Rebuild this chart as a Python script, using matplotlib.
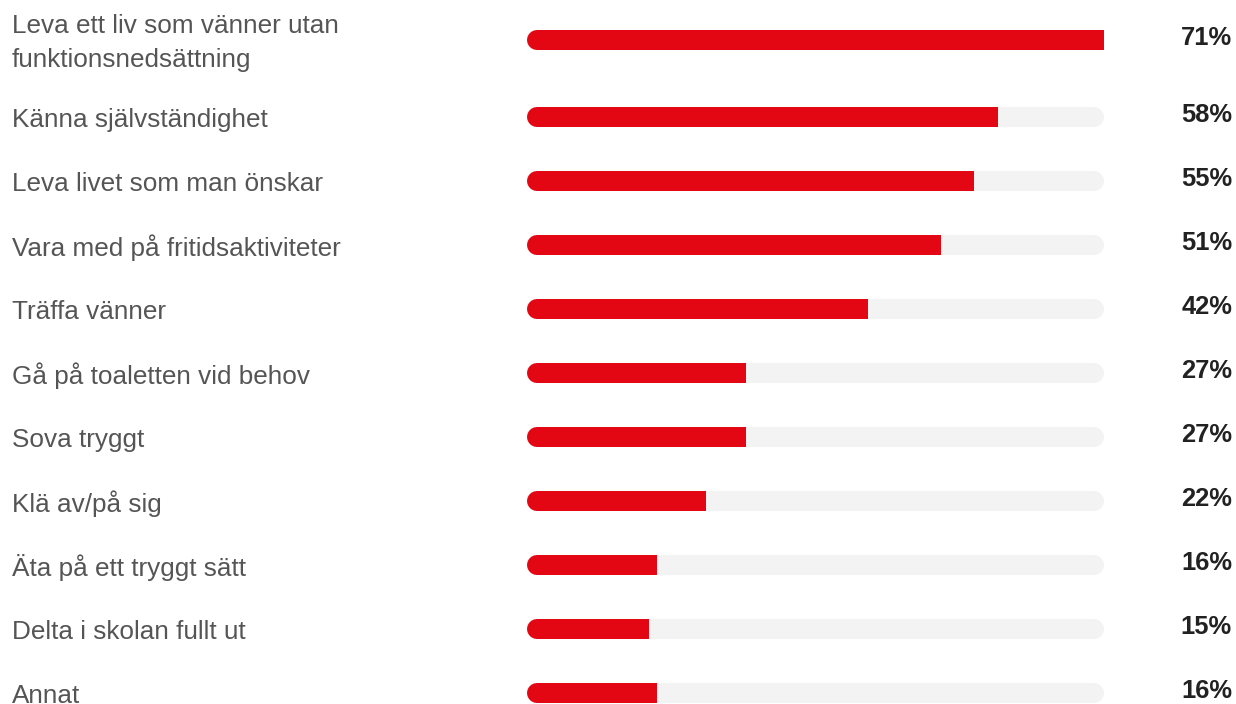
import matplotlib.pyplot as plt

# data
labels = [
    "Leva ett liv som vänner utan\nfunktionsnedsättning",
    "Känna självständighet",
    "Leva livet som man önskar",
    "Vara med på fritidsaktiviteter",
    "Träffa vänner",
    "Gå på toaletten vid behov",
    "Sova tryggt",
    "Klä av/på sig",
    "Äta på ett tryggt sätt",
    "Delta i skolan fullt ut",
    "Annat",
]
values = [71, 58, 55, 51, 42, 27, 27, 22, 16, 15, 16]

RED = "#e30613"
TRACK = "#f3f3f3"
W, H, DPI = 1236, 704, 100

plt.rcParams['font.family'] = ['Liberation Sans', 'DejaVu Sans']

fig = plt.figure(figsize=(W / DPI, H / DPI), dpi=DPI)
x0, x1 = 527, 1104
ax = fig.add_axes([x0 / W, 0, (x1 - x0) / W, 1])
ax.axis('off')

vmax = max(values)
ax.set_xlim(0, vmax)
# row pitch 64px, first row is taller because of its two-line label
pitch = 64
ypos = [i + (0.2 if i > 0 else 0) for i in range(len(values))]
ax.set_ylim((H - 40) / pitch, -40 / pitch)

bar_px = 20
lw = bar_px * 72 / DPI
r = (bar_px / 2) / ((x1 - x0) / vmax)  # half bar height in data units

for y, v in zip(ypos, values):
    # background track, rounded both ends
    ax.plot([r, vmax - r], [y, y], color=TRACK, lw=lw, solid_capstyle='round', zorder=1)
    # red bar: rounded left, square right
    ax.plot([r, v], [y, y], color=RED, lw=lw, solid_capstyle='butt', zorder=2)
    ax.plot([r, 2 * r], [y, y], color=RED, lw=lw, solid_capstyle='round', zorder=2)

# text in figure pixels
for y, lab, v in zip(ypos, labels, values):
    yf = ax.transData.transform((0, y))[1] / H
    fig.text(12 / W, yf - 3 / H, lab, ha='left', va='center', fontsize=18.8,
             color='#555555', linespacing=1.5)
    fig.text(1232 / W, yf + 2 / H, f"{v}%", ha='right', va='center',
             fontsize=18.4, fontweight='bold', color='#222222')

fig.savefig("out.png", dpi=DPI)
